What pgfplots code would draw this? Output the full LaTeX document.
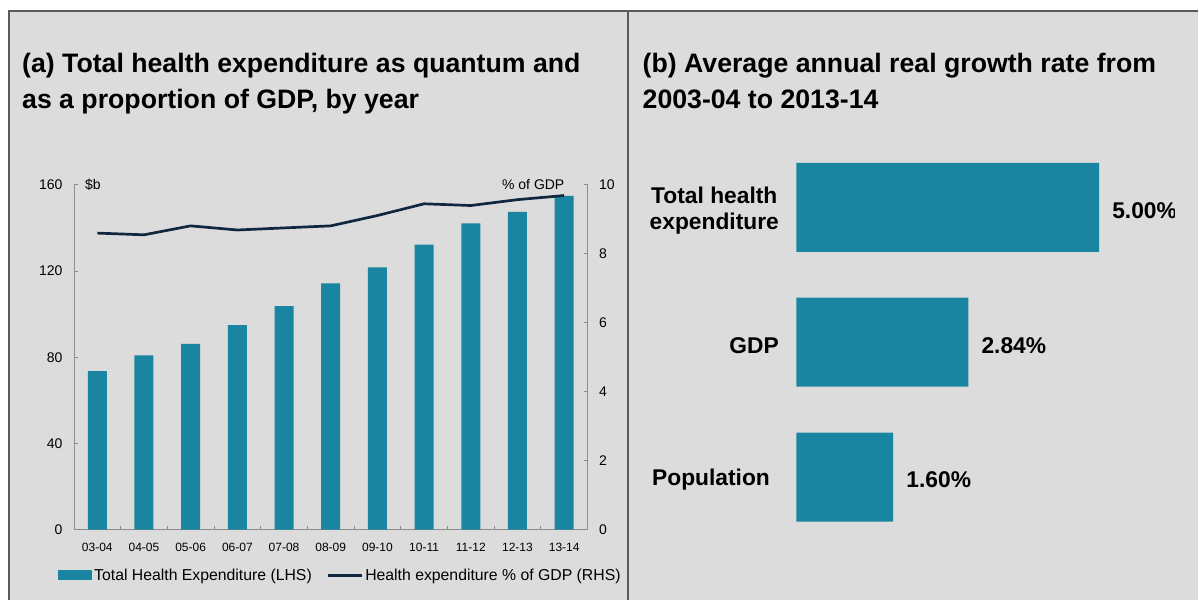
\documentclass[border=0pt]{standalone}
\usepackage{pgfplots}
\pgfplotsset{compat=1.18}
\usepackage{fontspec}
\setmainfont{Liberation Sans}
\definecolor{bg}{HTML}{DCDCDC}
\definecolor{barc}{HTML}{1A85A0}
\definecolor{linec}{HTML}{10283F}
\definecolor{axg}{HTML}{8C8C8C}
\definecolor{framec}{HTML}{5A5A5A}
\newcommand\ttlfont{\fontsize{26.7bp}{30bp}\selectfont\bfseries}
\begin{document}
\begin{tikzpicture}[x=1bp,y=1bp]
\fill[white] (0,0) rectangle (1199,601);
\fill[bg] (9,0) rectangle (1199,590);
\draw[framec,line width=2bp] (9,0) -- (9,590) -- (1199,590);
\draw[framec,line width=2bp] (629,0) -- (629,590);
\node[anchor=base west,inner sep=0,font=\ttlfont] at (22,528) {(a) Total health expenditure as quantum and};
\node[anchor=base west,inner sep=0,font=\ttlfont] at (22,492) {as a proportion of GDP, by year};
\node[anchor=base west,inner sep=0,font=\ttlfont] at (643,528) {(b) Average annual real growth rate from};
\node[anchor=base west,inner sep=0,font=\ttlfont] at (643,492) {2003-04 to 2013-14};

\begin{axis}[
  at={(74bp,71bp)}, anchor=south west, scale only axis,
  width=514bp, height=345bp,
  xmin=-0.5, xmax=10.5, ymin=0, ymax=160,
  clip mode=individual,
  axis x line*=bottom, axis y line*=left,
  axis line style={axg, line width=0.8bp},
  /pgf/number format/assume math mode=true,
  xtick={0,...,10},
  xticklabels={03-04,04-05,05-06,06-07,07-08,08-09,09-10,10-11,11-12,12-13,13-14},
  major x tick style={draw=none},
  minor xtick={-0.5,0.5,...,10.5},
  minor x tick style={axg, line width=0.8bp},
  minor tick length=4bp, major tick length=4bp,
  ytick={0,40,80,120,160},
  ytick style={axg, line width=0.8bp},
  tick align=inside,
  x tick label style={font=\fontsize{12bp}{14bp}\selectfont, yshift=-10bp},
  y tick label style={font=\fontsize{14bp}{16bp}\selectfont, xshift=-8bp},
  legend style={at={(-0.031,-0.133)}, anchor=west, draw=none, fill=none,
    legend columns=2, font=\fontsize{15.8bp}{18bp}\selectfont,
    /tikz/every even column/.append style={column sep=13bp},
    inner sep=0pt, nodes={inner sep=2bp}},
  legend cell align=left,
]
\addplot[ybar, bar width=19bp, fill=barc, draw=none,
  legend image code/.code={\fill[barc] (0bp,-5bp) rectangle (34bp,5bp);}]
  coordinates {(0,73.5) (1,80.9) (2,86.2) (3,94.9) (4,103.7) (5,114.3) (6,121.7) (7,132.2) (8,142.1) (9,147.4) (10,154.9)};
\addlegendentry{Total Health Expenditure (LHS)}
\addlegendimage{legend image code/.code={\draw[linec,line width=2.5bp] (0bp,0bp) -- (34bp,0bp);}}
\addlegendentry{Health expenditure \% of GDP (RHS)}
\node[anchor=west, font=\fontsize{14bp}{16bp}\selectfont, inner sep=0] at (rel axis cs:0,1) [xshift=11bp] {\$b};
\node[anchor=east, font=\fontsize{14bp}{16bp}\selectfont, inner sep=0] at (rel axis cs:1,1) [xshift=-23bp] {\% of GDP};
\end{axis}

\begin{axis}[
  at={(74bp,71bp)}, anchor=south west, scale only axis,
  width=514bp, height=345bp,
  xmin=-0.5, xmax=10.5, ymin=0, ymax=10,
  axis x line=none, axis y line*=right,
  axis line style={axg, line width=0.8bp},
  /pgf/number format/assume math mode=true,
  ytick={0,2,4,6,8,10},
  ytick style={axg, line width=0.8bp},
  major tick length=4bp, tick align=inside,
  y tick label style={font=\fontsize{14bp}{16bp}\selectfont, xshift=8bp},
]
\addplot[linec, line width=2.7bp, mark=none]
  coordinates {(0,8.60) (1,8.55) (2,8.81) (3,8.69) (4,8.75) (5,8.81) (6,9.11) (7,9.45) (8,9.40) (9,9.57) (10,9.69)};
\end{axis}

\begin{axis}[
  at={(797bp,56bp)}, anchor=south west, scale only axis,
  width=378bp, height=405bp,
  xmin=0, xmax=6.2376, ymin=-0.5, ymax=2.5,
  axis line style={draw=none}, xtick=\empty, ytick={0,1,2},
  yticklabels={{Population\kern9bp}, GDP, {Total health\\expenditure}},
  major tick length=0,
  /pgf/number format/assume math mode=true,
  y tick label style={font=\fontsize{22.8bp}{26bp}\selectfont\bfseries, align=center, xshift=-14bp, yshift=-3bp},
  point meta=x,
  nodes near coords={\pgfmathprintnumber[fixed, fixed zerofill, precision=2]{\pgfplotspointmeta}\%},
  nodes near coords style={font=\fontsize{22.8bp}{26bp}\selectfont\bfseries, anchor=west, inner sep=0, xshift=13bp, yshift=-3bp},
  clip marker paths=true,
]
\addplot[xbar, bar width=89bp, fill=barc, draw=none]
  coordinates {(1.60,0) (2.84,1) (5.00,2)};
\end{axis}
\end{tikzpicture}
\end{document}
